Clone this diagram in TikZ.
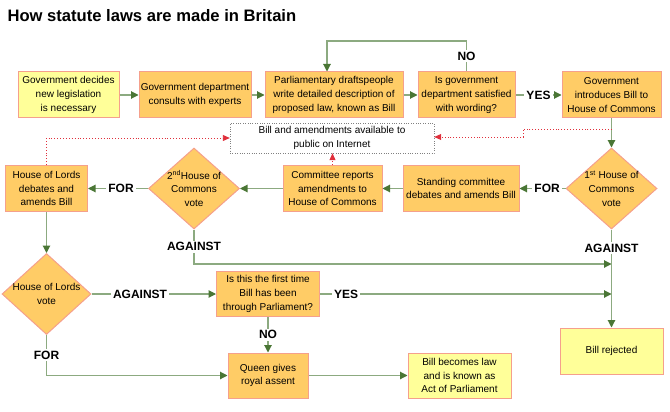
\documentclass[tikz,border=0pt]{standalone}
\usepackage{fontspec}
\setmainfont{Liberation Sans}
\usetikzlibrary{arrows.meta,shapes.geometric}

\definecolor{boxorange}{HTML}{FFCC66}
\definecolor{boxyellow}{HTML}{FFFF99}
\definecolor{boxedge}{HTML}{F5A08C}
\definecolor{linkgreen}{HTML}{8CAA80}
\definecolor{tipgreen}{HTML}{4A7635}
\definecolor{netred}{HTML}{E0303C}

\begin{document}
\begin{tikzpicture}[
    x=1pt, y=-1pt,
    box/.style={draw=boxedge, line width=1pt, fill=boxorange, align=center,
      inner sep=1pt, minimum height=46pt, font=\fontsize{10}{13.8}\selectfont},
    ybox/.style={box, fill=boxyellow},
    vote/.style={draw=boxedge, line width=1pt, fill=boxorange, shape=diamond,
      minimum width=91pt, minimum height=81pt, inner sep=0pt},
    votetext/.style={align=center, font=\fontsize{10}{13.8}\selectfont},
    link/.style={draw=linkgreen, line width=1.1pt,
      -{Triangle[length=7.5pt,width=7.5pt,color=tipgreen]}},
    net/.style={draw=netred, line width=0.9pt, dotted,
      -{Triangle[length=7pt,width=6pt,color=netred]}},
    tag/.style={fill=white, inner sep=2pt, font=\fontsize{12}{14}\selectfont\bfseries}
  ]

  \useasboundingbox (0,0) rectangle (670,412);

  % Title
  \node[anchor=west, font=\fontsize{16.6}{20}\selectfont\bfseries] (title) at (4,16)
  {How statute laws are made in Britain};

  % Top row
  \node[ybox, minimum width=101pt] (decide) at (68.5,95) {Government decides\\new legislation\\is necessary};
  \node[box, minimum width=112pt] (consult) at (195,95) {Government department\\consults with experts};
  \node[box, minimum width=138pt] (draft) at (334,95) {Parliamentary draftspeople\\write detailed description of\\proposed law, known as Bill};
  \node[box, minimum width=97pt] (satisfied) at (466.5,95) {Is government\\department satisfied\\with wording?};
  \node[box, minimum width=99pt] (introduce) at (611.5,95) {Government\\introduces Bill to\\House of Commons};

  % Internet
  \node[draw=gray, dotted, fill=white, minimum width=204pt, minimum height=30pt,
  align=center, font=\fontsize{10}{13.8}\selectfont] (internet) at (332,138)
  {Bill and amendments available to\\public on Internet};

  % Middle row
  \node[box, minimum width=82pt] (lords) at (46.5,188.5) {House of Lords\\debates and\\amends Bill};
  \node[vote, label={[votetext]center:{2\textsuperscript{nd}House of\\Commons\\vote}}] (vote2) at (194,188.5) {};
  \node[box, minimum width=99pt] (committee) at (332.5,188.5) {Committee reports\\amendments to\\House of Commons};
  \node[box, minimum width=116pt] (standing) at (461,188.5) {Standing committee\\debates and amends Bill};
  \node[vote, label={[votetext]center:{1\textsuperscript{st} House of\\Commons\\vote}}] (vote1) at (611.5,188.5) {};

  % Bottom rows
  \node[vote, minimum width=89pt, label={[votetext]center:{House of Lords\\vote}}] (lordsvote) at (46.5,294) {};
  \node[box, minimum width=103pt, minimum height=45pt] (first) at (268,294) {Is this the first time\\Bill has been\\through Parliament?};
  \node[box, minimum width=80pt, minimum height=45pt] (queen) at (268,375.5) {Queen gives\\royal assent};
  \node[ybox, minimum width=103pt, minimum height=45pt] (law) at (459.5,375.5) {Bill becomes law\\and is known as\\Act of Parliament};
  \node[ybox, minimum width=103pt] (rejected) at (611.5,351) {Bill rejected};

  % Top row links
  \draw[link] (decide.east) -- (consult.west);
  \draw[link] (consult.east) -- (draft.west);
  \draw[link] (draft.east) -- (satisfied.west);
  \draw[link] (satisfied.east) -- node[tag] {YES} (introduce.west);
  \coordinate (redo) at (327,41);
  \draw[link] (satisfied.north) -- node[tag] {NO} (satisfied.north |- redo)
  -- (redo) -- (redo |- draft.north);
  \draw[link] (introduce.south) -- (vote1.north);

  % Internet links
  \coordinate (tap) at (611.5,129);
  \coordinate (netjog) at (523,137);
  \draw[net] (tap) -| (netjog) -- (netjog -| internet.east);
  \draw[net] (committee.north) -- (committee.north |- internet.south);
  \draw[net] (lords.north) |- (internet.west);

  % Middle row links
  \draw[link] (vote1.west) -- node[tag, pos=0.4] {FOR} (standing.east);
  \draw[link] (standing.west) -- (committee.east);
  \draw[link] (committee.west) -- (vote2.east);
  \draw[link] (vote2.west) -- node[tag, pos=0.45] {FOR} (lords.east);
  \draw[link] (lords.south) -- (lordsvote.north);

  % Against and rejection
  \coordinate (fail) at (194,264);
  \draw[link] (vote2.south) -- node[tag] {AGAINST} (fail) -- (fail -| vote1.south);
  \draw[link] (vote1.south) -- node[tag, pos=0.19] {AGAINST} (rejected.north);

  % Lords vote links
  \draw[link] (lordsvote.east) -- node[tag, pos=0.39] {AGAINST} (first.west);
  \draw[link] (first.east) -- node[tag, pos=0.09] {YES} (first.east -| rejected.north);
  \draw[link] (first.south) -- node[tag] {NO} (queen.north);
  \draw[link] (lordsvote.south) |- node[tag, pos=0.25] {FOR} (queen.west);
  \draw[link] (queen.east) -- (law.west);
\end{tikzpicture}
\end{document}
